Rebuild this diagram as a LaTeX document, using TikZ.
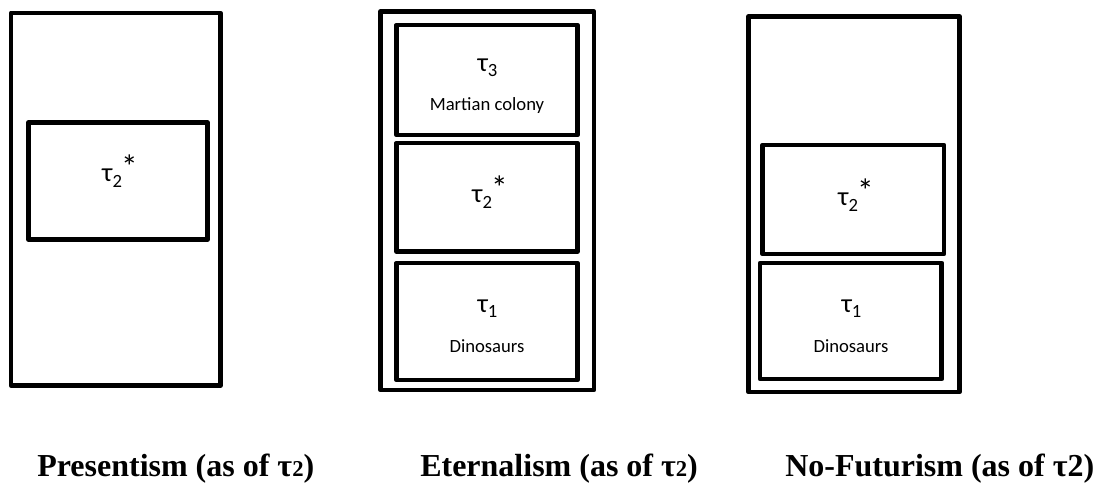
\documentclass[tikz,border=0pt]{standalone}
\usepackage{fontspec}
\setmainfont{Carlito}
\newfontfamily\labfont{Liberation Serif}
\tikzset{
  boxline/.style={draw, line width=3.6pt, line join=round, fill=none},
  taulab/.style={font=\fontsize{20}{22}\selectfont, inner sep=0pt},
  desclab/.style={font=\fontsize{14}{16}\selectfont, inner sep=0pt},
  caption/.style={font=\labfont\bfseries\fontsize{24}{26}\selectfont, inner sep=0pt, anchor=base west}
}
\newcommand{\tauT}[2]{τ\raisebox{-0.2em}{\fontsize{14}{14}\selectfont #1}\kern-0.03em\raisebox{0.12em}{\fontsize{25}{25}\selectfont #2}}
\begin{document}
\begin{tikzpicture}[x=0.75pt,y=-0.75pt]
\useasboundingbox (0,0) rectangle (1118,484);
% Presentism
\draw[boxline] (11,13) rectangle (220.5,385.5);
\draw[boxline] (28.5,122.5) rectangle (207.5,239.5);
\node[taulab] (Pt2) at (120,171) {\tauT{2}{*}};
% Eternalism
\draw[boxline] (380.5,11.5) rectangle (594,390);
\draw[boxline] (396.5,25) rectangle (577.5,135);
\draw[boxline] (396.5,143) rectangle (577.5,251.5);
\draw[boxline] (396.5,263) rectangle (577.5,380);
\node[taulab] (Et3) at (487,68) {\tauT{3}{}};
\node[desclab] (Em) at (487,106) {Martian colony};
\node[taulab] (Et2) at (490,192) {\tauT{2}{*}};
\node[taulab] (Et1) at (487,309) {\tauT{1}{}};
\node[desclab] (Ed) at (487,346) {Dinosaurs};
% No-Futurism
\draw[boxline] (748.5,16.5) rectangle (959.5,392);
\draw[boxline] (762.5,145) rectangle (944,254);
\draw[boxline] (760,263) rectangle (941.7,379);
\node[taulab] (Nt2) at (856,195) {\tauT{2}{*}};
\node[taulab] (Nt1) at (851,309) {\tauT{1}{}};
\node[desclab] (Nd) at (851,346) {Dinosaurs};
% captions
\node[caption] (c1) at (37,477) {Presentism (as of τ{\fontsize{17}{17}\selectfont 2})};
\node[caption] (c2) at (420,477) {Eternalism (as of τ{\fontsize{17}{17}\selectfont 2})};
\node[caption] (c3) at (785,477) {No-Futurism (as of τ2)};
\end{tikzpicture}
\end{document}
